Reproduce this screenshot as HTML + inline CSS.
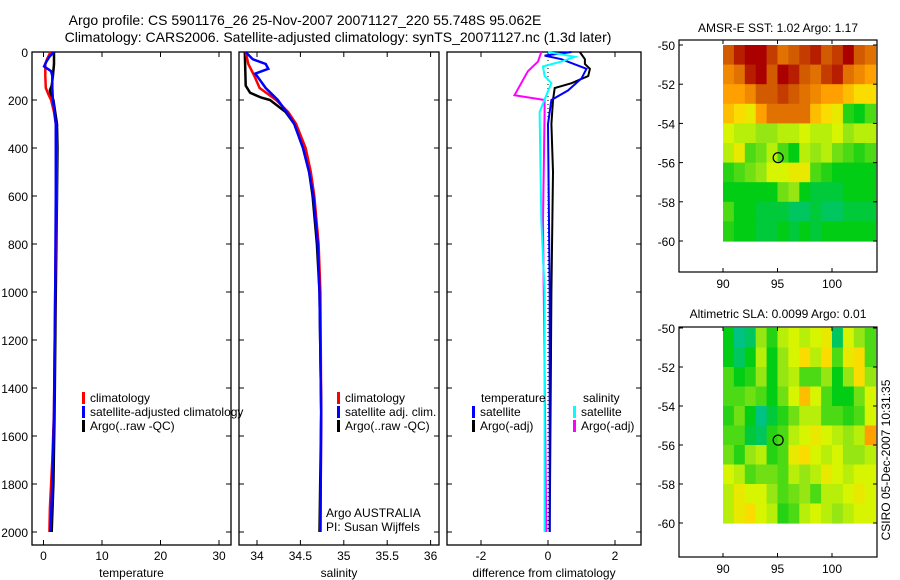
<!DOCTYPE html>
<html><head><meta charset="utf-8"><style>
body{margin:0;background:#fff;}
svg{display:block;font-family:"Liberation Sans",sans-serif;}
</style></head><body>
<svg id="fig" width="900" height="580" xmlns="http://www.w3.org/2000/svg">
<text x="305" y="25" font-size="14" text-anchor="middle">Argo profile: CS 5901176_26 25-Nov-2007 20071127_220 55.748S 95.062E</text>
<text x="338" y="42" font-size="14" text-anchor="middle">Climatology: CARS2006. Satellite-adjusted climatology: synTS_20071127.nc (1.3d later)</text>
<text x="778" y="32" font-size="12" text-anchor="middle">AMSR-E SST: 1.02 Argo: 1.17</text>
<text x="778" y="318" font-size="12" text-anchor="middle">Altimetric SLA: 0.0099 Argo: 0.01</text>
<text transform="translate(890,460) rotate(-90)" font-size="12" text-anchor="middle">CSIRO 05-Dec-2007 10:31:35</text>
<g id="plots"></g>
</svg>
<script>
// ---- data ----
const depthTicks=[0,200,400,600,800,1000,1200,1400,1600,1800,2000];
const tempTicks=[0,10,20,30];
const salTicks=[34,34.5,35,35.5,36];
const diffTicks=[-2,0,2];
const tempClimDepth=[0,30,50,100,150,180,200,250,300,400,600,1000,1500,1700,1900,2000];
const tempClim=[1.2,0.6,0.3,0.3,0.4,0.9,1.3,1.8,2.1,2.2,2.2,2.0,1.8,1.5,1.1,1.0];
const tempArgoDepth=[0,50,100,140,160,180,200,250,300,400,600,1000,1500,1800,2000];
const tempArgo=[1.8,1.8,1.6,1.4,1.1,1.3,1.7,2.0,2.3,2.4,2.3,2.1,1.9,1.7,1.4];
const tempSatDepth=[0,20,40,60,80,100,150,200,250,300,400,600,1000,1500,1800,2000];
const tempSat=[1.8,1.0,0.5,0.1,1.3,1.5,1.5,1.6,1.9,2.1,2.1,2.1,2.0,1.8,1.5,1.2];
const salClimDepth=[0,50,100,150,200,250,300,400,500,600,800,1000,1500,2000];
const salClim=[33.87,33.9,33.97,34.03,34.22,34.36,34.45,34.56,34.62,34.66,34.71,34.73,34.74,34.73];
const salArgoDepth=[0,140,170,190,200,250,300,400,500,600,800,1000,1500,2000];
const salArgo=[33.86,33.87,33.92,34.05,34.15,34.33,34.43,34.53,34.6,34.64,34.69,34.72,34.74,34.72];
const salSatDepth=[0,30,50,70,90,150,200,250,300,400,500,600,800,1000,1500,2000];
const salSat=[33.87,33.95,34.1,34.13,33.98,34.1,34.24,34.34,34.43,34.53,34.6,34.65,34.7,34.72,34.74,34.73];
const diffTArgoDepth=[0,30,50,70,100,130,150,200,300,500,1000,2000];
const diffTArgo=[0.95,1.1,1.1,1.25,1.2,0.7,0.2,0.15,0.1,0.15,0.1,0.05];
const diffTSatDepth=[0,15,30,70,110,160,200,300,1000,2000];
const diffTSat=[0.7,-0.1,0.4,1.15,1.0,0.6,0.1,0.0,0.05,0.05];
const diffSSatDepth=[0,20,40,60,100,130,180,250,700,1000,2000];
const diffSSat=[0,0.8,0.4,-0.15,-0.1,0.1,-0.05,-0.25,-0.2,-0.1,-0.1];
const diffSArgoDepth=[0,40,80,130,180,200,250,700,2000];
const diffSArgo=[-0.2,-0.3,-0.6,-0.8,-1.0,-0.1,-0.1,-0.15,-0.05];
const latTicks=[-50,-52,-54,-56,-58,-60];
const lonTicks=[90,95,100];
const sstGrid=[
[.85,.95,1,1,.9,.8,.85,.9,.95,.85,.9,1,.85,.8],
[.75,.8,.95,1,.85,1,.95,.85,.8,.9,.95,.8,.75,.7],
[.7,.7,.75,.85,.85,.9,.85,.8,.75,.7,.7,.65,.6,.6],
[.65,.6,.55,.7,.8,.8,.8,.8,.65,.6,.55,.25,.2,.3],
[.5,.45,.45,.4,.4,.45,.45,.5,.45,.45,.5,.4,.45,.45],
[.45,.55,.3,.35,.45,.3,.2,.45,.4,.45,.35,.3,.25,.3],
[.25,.3,.35,.4,.5,.5,.55,.55,.3,.25,.2,.2,.2,.2],
[.2,.2,.2,.2,.2,.35,.4,.2,.15,.15,.15,.2,.2,.2],
[.3,.2,.2,.15,.15,.15,.1,.1,.15,.1,.1,.15,.15,.15],
[.25,.2,.2,.15,.15,.2,.15,.2,.15,.2,.2,.2,.2,.2]];
const slaGrid=[
[.2,.05,.1,.4,.25,.45,.5,.45,.5,.55,.1,.5,.4,.3],
[.2,.1,.2,.45,.2,.4,.5,.6,.45,.6,.3,.55,.6,.3],
[.3,.2,.25,.4,.2,.4,.45,.3,.3,.4,.2,.4,.6,.4],
[.3,.3,.35,.3,.2,.35,.5,.65,.5,.3,.2,.2,.35,.5],
[.25,.35,.2,.05,.15,.25,.35,.45,.45,.3,.3,.25,.3,.5],
[.3,.3,.15,.1,.25,.3,.45,.5,.55,.5,.45,.4,.45,.7],
[.35,.25,.4,.45,.25,.3,.55,.6,.5,.45,.5,.4,.4,.45],
[.5,.45,.3,.35,.35,.3,.45,.4,.45,.55,.5,.45,.5,.5],
[.45,.55,.5,.5,.4,.3,.35,.4,.3,.45,.45,.5,.55,.5],
[.45,.55,.6,.5,.45,.25,.3,.45,.5,.45,.4,.45,.5,.5]];
const floatLon=95.06, floatLat=-55.75;

// ---- drawing ----
const NS="http://www.w3.org/2000/svg";
const root=document.getElementById('plots');
function mk(tag,attrs,parent){const e=document.createElementNS(NS,tag);for(const k in attrs)e.setAttribute(k,attrs[k]);(parent||root).appendChild(e);return e;}
const yD=d=>52+d*0.24;
const TOP=52,BOT=545;
function panel(x0,x1,xs,ticks,fmt,label,name,ylabels){
  const g=mk('g',{});
  
  
  const r=mk('rect',{x:x0,y:TOP,width:x1-x0,height:BOT-TOP,fill:'none',stroke:'#000','stroke-width':1.3},g);
  
  
  depthTicks.forEach(d=>{const y=yD(d);
    mk('line',{x1:x0,y1:y,x2:x0+5,y2:y,stroke:'#000'},g);mk('line',{x1:x1-5,y1:y,x2:x1,y2:y,stroke:'#000'},g);
    if(ylabels){const t=mk('text',{x:x0-4,y:y+5,'font-size':12,'text-anchor':'end'},g);t.textContent=d;
      
      }
  });
  ticks.forEach(v=>{const x=xs(v);
    mk('line',{x1:x,y1:TOP,x2:x,y2:TOP+5,stroke:'#000'},g);mk('line',{x1:x,y1:BOT-5,x2:x,y2:BOT,stroke:'#000'},g);
    const t=mk('text',{x:x,y:BOT+15,'font-size':12,'text-anchor':'middle'},g);t.textContent=fmt(v);
    
    });
  const t=mk('text',{x:(x0+x1)/2,y:BOT+32,'font-size':12,'text-anchor':'middle'},g);t.textContent=label;
  
  
  return g;
}
function line(g,xs,depths,vals,color,name,w){
  const pts=depths.map((d,i)=>xs(vals[i]).toFixed(1)+','+yD(d).toFixed(1)).join(' ');
  const p=mk('polyline',{points:pts,fill:'none',stroke:color,'stroke-width':w||2.5},g);
  
  
}
function legend(g,x,y,items){
  items.forEach((it,i)=>{
    mk('rect',{x:x,y:y+i*14-10,width:3,height:12,fill:it[1]},g);
    const t=mk('text',{x:x+8,y:y+i*14,'font-size':12},g);t.textContent=it[0];
    
    
  });
}
// temperature
const xT=v=>43.5+v*5.85;
const g1=panel(32,231,xT,tempTicks,v=>v,'temperature','temperature-panel',true);
line(g1,xT,tempArgoDepth,tempArgo,'#000','temp-argo-line');
line(g1,xT,tempClimDepth,tempClim,'#f00','temp-climatology-line');
line(g1,xT,tempSatDepth,tempSat,'#00f','temp-satellite-line');
legend(g1,82,402,[['climatology','#f00'],['satellite-adjusted climatology','#00f'],['Argo(..raw -QC)','#000']]);
// salinity
const xS=v=>257+(v-34)*86.8;
const g2=panel(239,439,xS,salTicks,v=>v,'salinity','salinity-panel',false);
line(g2,xS,salArgoDepth,salArgo,'#000','sal-argo-line');
line(g2,xS,salClimDepth,salClim,'#f00','sal-climatology-line');
line(g2,xS,salSatDepth,salSat,'#00f','sal-satellite-line');
legend(g2,337,402,[['climatology','#f00'],['satellite adj. clim.','#00f'],['Argo(..raw -QC)','#000']]);
const a1=mk('text',{x:326,y:517,'font-size':12},g2);a1.textContent='Argo AUSTRALIA';


const a2=mk('text',{x:326,y:531,'font-size':12},g2);a2.textContent='PI: Susan Wijffels';


// difference
const xDf=v=>548+v*33.5;
const g3=panel(447,641,xDf,diffTicks,v=>v,'difference from climatology','difference-panel',false);
mk('line',{x1:xDf(0),y1:TOP,x2:xDf(0),y2:yD(2000),stroke:'#000','stroke-dasharray':'1,3'},g3);
line(g3,xDf,diffTArgoDepth,diffTArgo,'#000','diff-temp-argo-line',2);
line(g3,xDf,diffTSatDepth,diffTSat,'#00f','diff-temp-satellite-line',2);
line(g3,xDf,diffSArgoDepth,diffSArgo,'#f0f','diff-sal-argo-line',2);
line(g3,xDf,diffSSatDepth,diffSSat,'#0ff','diff-sal-satellite-line',2);
const lt=mk('text',{x:481,y:402,'font-size':12},g3);lt.textContent='temperature';


const ls=mk('text',{x:583,y:402,'font-size':12},g3);ls.textContent='salinity';


legend(g3,472,416,[['satellite','#00f'],['Argo(-adj)','#000']]);
legend(g3,573,416,[['satellite','#0ff'],['Argo(-adj)','#f0f']]);
// maps
const stops=[[0,[0,190,170]],[0.2,[0,205,20]],[0.4,[150,230,20]],[0.5,[215,245,0]],[0.6,[250,220,0]],[0.7,[255,160,0]],[0.85,[210,90,0]],[1,[170,0,0]]];
function cmap(v){for(let i=1;i<stops.length;i++){if(v<=stops[i][0]){const a=stops[i-1],b=stops[i],f=(v-a[0])/(b[0]-a[0]);return 'rgb('+a[1].map((c,k)=>Math.round(c+(b[1][k]-c)*f)).join(',')+')';}}return 'rgb(170,0,0)';}
function map(top,lat50,lat60,grid,name){
  const g=mk('g',{});
  
  
  const xL=lon=>723+(lon-90)*10.9;
  const yL=lat=>lat50+(-50-lat)*(lat60-lat50)/10;
  const nr=grid.length,nc=grid[0].length;
  grid.forEach((row,r)=>row.forEach((v,c)=>{
    const x=xL(90+c*14/nc),y=yL(-50-r*10/nr);
    const cell=mk('rect',{x:x.toFixed(1),y:y.toFixed(1),width:(14/nc*10.9+0.6).toFixed(1),height:((lat60-lat50)/nr+0.6).toFixed(1),fill:cmap(v)},g);
    
    
  }));
  const bottom=top<100?272:557;
  const fr=mk('rect',{x:679,y:top,width:198,height:bottom-top,fill:'none',stroke:'#000','stroke-width':1.2},g);
  
  
  latTicks.forEach(l=>{const y=yL(l);
    mk('line',{x1:679,y1:y,x2:683,y2:y,stroke:'#000'},g);mk('line',{x1:873,y1:y,x2:877,y2:y,stroke:'#000'},g);
    const t=mk('text',{x:675,y:y+5,'font-size':12,'text-anchor':'end'},g);t.textContent=l;
    
    });
  lonTicks.forEach(l=>{const x=xL(l);
    mk('line',{x1:x,y1:top,x2:x,y2:top+4,stroke:'#000'},g);mk('line',{x1:x,y1:bottom-4,x2:x,y2:bottom,stroke:'#000'},g);
    const t=mk('text',{x:x,y:bottom+16,'font-size':12,'text-anchor':'middle'},g);t.textContent=l;
    
    });
  const c=mk('circle',{cx:xL(floatLon),cy:yL(floatLat),r:5,fill:'none',stroke:'#000','stroke-width':1.2},g);
  
  
}
map(40,45,241,sstGrid,'sst-map');
map(327,328,523,slaGrid,'sla-map');
</script>
</body></html>
